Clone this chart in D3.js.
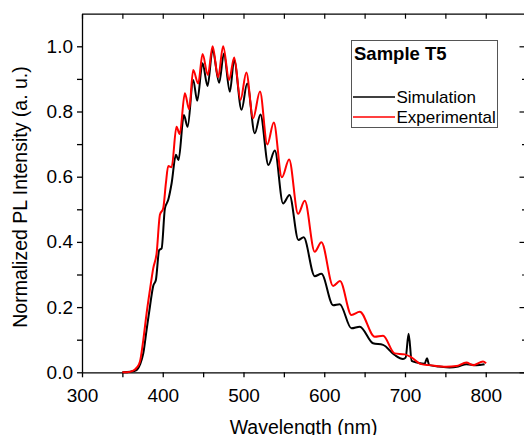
<!DOCTYPE html>
<html>
<head>
<meta charset="utf-8">
<script src="https://cdn.jsdelivr.net/npm/d3@7"></script>
<style>
  body { margin: 0; background: #fff; }
  text { font-family: "Liberation Sans", Arial, sans-serif; fill: #000; }
</style>
</head>
<body>
<div id="chart"></div>
<script>
// Simulation curve (black)
const simWavelength = [350, 360, 367.6, 372, 375.9, 380, 384.1, 388.2, 391.5, 395.6, 398.6, 402.7, 406.8, 411,
  416.3, 419.5, 426.2, 430.8, 437.7, 442.7, 449.3, 455.5, 461.7, 469.9, 475.7, 483.1, 488.4, 497.6, 504.5,
  514, 521, 530.8, 538.8, 549, 557, 568, 574.5, 588.2, 596.5, 611, 619.2, 633.7, 644, 660.4, 672.8, 687.2,
  697.5, 700.8, 704.5, 708.3, 715, 724.3, 727.2, 730, 742, 755.3, 766, 776, 788.4, 798.6];
const simIntensity = [0, 0.002, 0.007, 0.025, 0.058, 0.13, 0.201, 0.265, 0.283, 0.375, 0.38, 0.503, 0.529, 0.58,
  0.667, 0.651, 0.789, 0.753, 0.897, 0.833, 0.948, 0.878, 0.989, 0.888, 0.978, 0.861, 0.958, 0.805, 0.886,
  0.733, 0.791, 0.636, 0.68, 0.518, 0.544, 0.406, 0.414, 0.295, 0.302, 0.206, 0.209, 0.135, 0.14, 0.089, 0.084, 0.053,
  0.041, 0.045, 0.118, 0.035, 0.03, 0.026, 0.043, 0.022, 0.018, 0.015, 0.018, 0.025, 0.022, 0.025];

// Experimental curve (red)
const expWavelength = [350, 355, 363.5, 368, 371.8, 375.9, 380, 384.1, 388.2, 392.4, 396.5, 400.6, 403.9, 406.8,
  411, 417, 421, 427.4, 432.7, 437.7, 443.9, 449.3, 455.9, 461.7, 468.6, 474.8, 482.2, 488.5, 496.3, 503.5,
  511.9, 520.4, 529.5, 537.5, 547.5, 556.5, 567.6, 575.9, 588.2, 596.5, 611, 619.5, 633.7, 644, 662.5, 672.8,
  687.2, 699.6, 707.9, 720.2, 730.5, 751.2, 763.6, 776, 784.2, 796.6, 800.5];
const expIntensity = [0, 0, 0.005, 0.015, 0.033, 0.099, 0.181, 0.252, 0.319, 0.365, 0.483, 0.503, 0.58, 0.633,
  0.629, 0.753, 0.731, 0.856, 0.807, 0.927, 0.886, 0.976, 0.912, 1.0, 0.905, 1.0, 0.897, 0.966, 0.835, 0.92,
  0.779, 0.861, 0.699, 0.766, 0.598, 0.653, 0.486, 0.526, 0.37, 0.399, 0.265, 0.28, 0.176, 0.186, 0.109, 0.112,
  0.058, 0.055, 0.046, 0.025, 0.022, 0.017, 0.019, 0.03, 0.022, 0.033, 0.028];

const seriesNames = ['Simulation', 'Experimental'];
const seriesColors = ['#000000', '#ff0000'];
const legendTitle = 'Sample T5';
const xMajorTicks = [300, 400, 500, 600, 700, 800];
const yMajorTicks = [0, 0.2, 0.4, 0.6, 0.8, 1.0];

const width = 524, height = 435;

const x = d3.scaleLinear().domain([300, 848]).range([82, 524.5]);
const y = d3.scaleLinear().domain([0, 1.1]).range([372.3, 13.7]);

const svg = d3.select('#chart').append('svg')
  .attr('width', width)
  .attr('height', height);

// Bottom axis
const xAll = d3.range(300, 850, 50);
svg.append('g')
  .attr('transform', `translate(0,${y(0)})`)
  .call(d3.axisBottom(x).tickValues(xAll).tickSize(5).tickSizeOuter(0).tickPadding(11)
    .tickFormat(d => xMajorTicks.includes(d) ? d : ''))
  .call(g => g.selectAll('text').style('font-size', '19px'))
  .call(g => g.selectAll('line, path').attr('stroke', '#000').attr('stroke-width', 1.3));

// Top axis, ticks pointing in
svg.append('g')
  .attr('transform', `translate(0,${y(1.1)})`)
  .call(d3.axisTop(x).tickValues(xAll).tickSize(-5).tickSizeOuter(0).tickFormat(''))
  .call(g => g.selectAll('line, path').attr('stroke', '#000').attr('stroke-width', 1.2));

// Left axis
const yAll = d3.range(0, 1.05, 0.1);
svg.append('g')
  .attr('transform', `translate(${x(300)},0)`)
  .call(d3.axisLeft(y).tickValues(yAll).tickSize(5).tickSizeOuter(0).tickPadding(4)
    .tickFormat(d => yMajorTicks.some(t => Math.abs(t - d) < 1e-6) ? d3.format('.1f')(d) : ''))
  .call(g => g.selectAll('text').style('font-size', '19px'))
  .call(g => g.selectAll('line, path').attr('stroke', '#000').attr('stroke-width', 1.3));

// Right axis, ticks pointing in
const rightAxis = svg.append('g')
  .attr('transform', `translate(${x(848)},0)`);
rightAxis.call(d3.axisRight(y).tickValues(yAll).tickSize(-5).tickSizeOuter(0).tickFormat(''))
  .call(g => g.selectAll('line, path').attr('stroke', '#000').attr('stroke-width', 1.2));
rightAxis.selectAll('.tick line')
  .attr('x2', d => yMajorTicks.some(t => Math.abs(t - d) < 1e-6) ? -5 : -2.5);

// Curves
const line = d3.line()
  .x(d => x(d[0]))
  .y(d => y(d[1]))
  .curve(d3.curveMonotoneX);

const simData = d3.zip(simWavelength, simIntensity);
const expData = d3.zip(expWavelength, expIntensity);

svg.append('path')
  .datum(simData)
  .attr('fill', 'none')
  .attr('stroke', seriesColors[0])
  .attr('stroke-width', 2)
  .attr('d', line);

svg.append('path')
  .datum(expData)
  .attr('fill', 'none')
  .attr('stroke', seriesColors[1])
  .attr('stroke-width', 2)
  .attr('d', line);

// Axis titles
svg.append('text')
  .attr('x', 303.5)
  .attr('y', 433.5)
  .attr('text-anchor', 'middle')
  .style('font-size', '19.5px')
  .text('Wavelength (nm)');

svg.append('text')
  .attr('transform', 'translate(26.5,197) rotate(-90)')
  .attr('text-anchor', 'middle')
  .style('font-size', '19.5px')
  .text('Normalized PL Intensity (a. u.)');

// Legend
const legend = svg.append('g');
legend.append('rect')
  .attr('x', 351.5)
  .attr('y', 40.5)
  .attr('width', 146)
  .attr('height', 87)
  .attr('fill', '#fff')
  .attr('stroke', '#555')
  .attr('stroke-width', 1);

legend.append('text')
  .attr('x', 354)
  .attr('y', 59.5)
  .style('font-size', '18.5px')
  .style('font-weight', 'bold')
  .text(legendTitle);

const legendRows = [{ lineY: 97, textY: 103 }, { lineY: 117, textY: 123 }];
seriesNames.forEach((name, i) => {
  legend.append('line')
    .attr('x1', 353).attr('x2', 395)
    .attr('y1', legendRows[i].lineY).attr('y2', legendRows[i].lineY)
    .attr('stroke', seriesColors[i])
    .attr('stroke-width', 1.5);
  legend.append('text')
    .attr('x', 396.5)
    .attr('y', legendRows[i].textY)
    .style('font-size', '17px')
    .text(name);
});
</script>
</body>
</html>
